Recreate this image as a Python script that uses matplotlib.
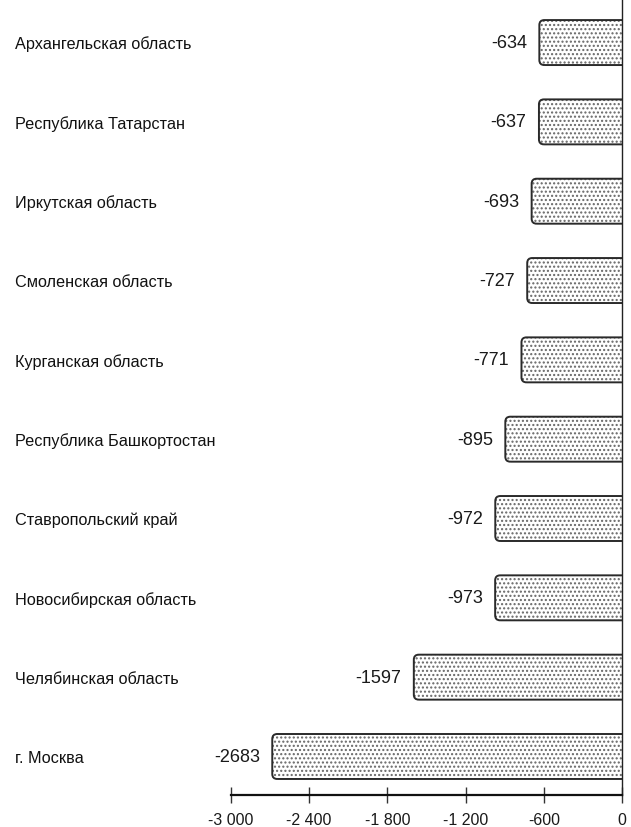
import matplotlib
matplotlib.use("Agg")
import matplotlib.pyplot as plt
from matplotlib.patches import FancyBboxPatch

regions = ["г. Москва", "Челябинская область", "Новосибирская область",
           "Ставропольский край", "Республика Башкортостан", "Курганская область",
           "Смоленская область", "Иркутская область", "Республика Татарстан",
           "Архангельская область"]
values = [-2683, -1597, -973, -972, -895, -771, -727, -693, -637, -634]
xticks = [-3000, -2400, -1800, -1200, -600, 0]
xtick_labels = ["-3 000", "-2 400", "-1 800", "-1 200", "-600", "0"]

plt.rcParams['font.family'] = ['Liberation Sans', 'DejaVu Sans']
plt.rcParams['hatch.linewidth'] = 1.0

fig = plt.figure(figsize=(6.31, 8.28), dpi=100)
ax = fig.add_axes([0.366, 0.0386, 0.6197, 0.9614])

n = len(values)
h = 0.567
y0, y1 = -0.486, n - 1 + 0.549
ax.set_xlim(-3000, 0)
ax.set_ylim(y0, y1)

xpp = 3000 / (0.6197 * 631)
ypp = (y1 - y0) / (0.9614 * 828)
aspect = ypp / xpp
r = 5 * xpp
style = f"round,pad=0,rounding_size={r}"
for i, v in enumerate(values):
    p = FancyBboxPatch((v, i - h / 2), -v + 100, h, boxstyle=style,
                       mutation_aspect=aspect, facecolor='white',
                       edgecolor='#666666', linewidth=0, hatch='....', clip_on=True)
    ax.add_patch(p)
    o = FancyBboxPatch((v, i - h / 2), -v + 100, h, boxstyle=style,
                       mutation_aspect=aspect, facecolor='none',
                       edgecolor='#2a2a2a', linewidth=1.4, clip_on=True)
    ax.add_patch(o)
    ax.text(v - 95, i, str(v), ha='right', va='center', fontsize=13, color='#1a1a1a')
    fig.text(15 / 631, (ax.transData.transform((0, i))[1] - 1) / 828, regions[i],
             ha='left', va='center', fontsize=11.7, color='#111111')

for s in ['top', 'left']:
    ax.spines[s].set_visible(False)
ax.spines['right'].set_color('#222222')
ax.spines['right'].set_linewidth(1.0)
ax.spines['bottom'].set_color('#111111')
ax.spines['bottom'].set_linewidth(1.6)
ax.spines['bottom'].set_bounds(-3000, 0)
ax.set_yticks([])
ax.set_xticks(xticks)
ax.set_xticklabels(xtick_labels, fontsize=11.5, color='#1a1a1a')
ax.tick_params(axis='x', direction='inout', length=11, width=1, color='#333333', pad=7)

fig.savefig("out.png", dpi=100)
